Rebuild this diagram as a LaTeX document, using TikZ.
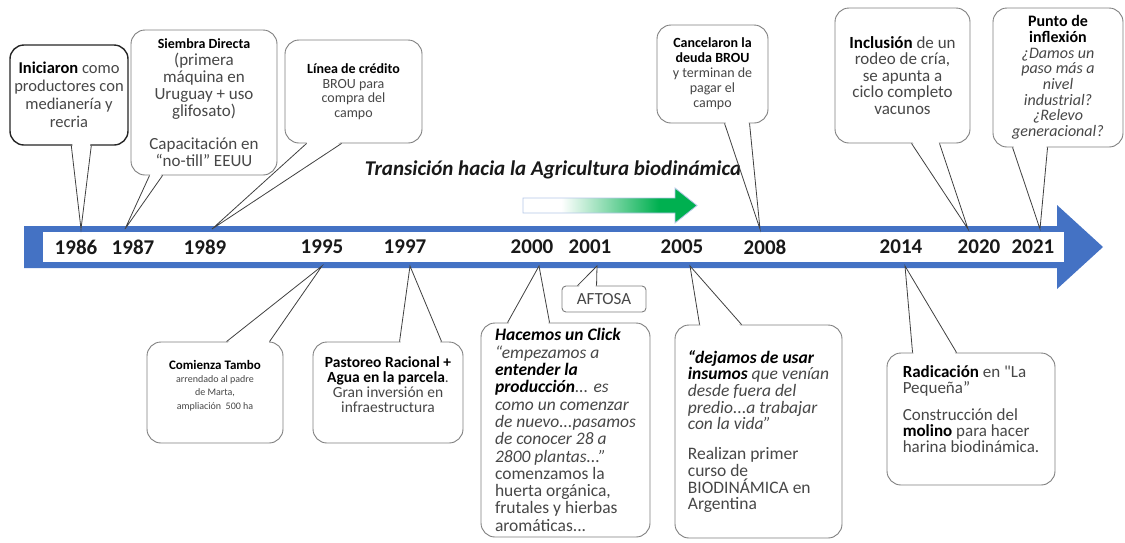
\documentclass[tikz,border=0pt]{standalone}
\usepackage{fontspec}
\setmainfont{Carlito}
\usetikzlibrary{calc}

\definecolor{bandblue}{HTML}{4472C4}
\definecolor{arrowgreen}{HTML}{00B050}
\definecolor{arrowedge}{HTML}{B4C7E7}
\definecolor{boxgray}{HTML}{7F7F7F}
\pgfdeclarehorizontalshading{greenfade}{100bp}{color(0bp)=(white); color(36bp)=(white); color(64bp)=(arrowgreen); color(100bp)=(arrowgreen)}

\newcommand\negrita[1]{\textbf{\color{black}#1}}
\newcommand\cuerpo{\fontsize{17}{17}\selectfont}
\newcommand\chico{\fontsize{14}{14.5}\selectfont}
% callout tails: node, left and right offset on its edge, tip
\newcommand\colaarriba[4]{%
  \fill[white] ([xshift=#2pt+1pt,yshift=1.5pt]#1.south west) -- (#4) -- ([xshift=#3pt-1pt,yshift=1.5pt]#1.south west) -- cycle;
  \draw[cola] ([xshift=#2pt]#1.south west) -- (#4) -- ([xshift=#3pt]#1.south west);}
\newcommand\colaabajo[4]{%
  \fill[white] ([xshift=#2pt+1pt,yshift=-1.5pt]#1.north west) -- (#4) -- ([xshift=#3pt-1pt,yshift=-1.5pt]#1.north west) -- cycle;
  \draw[cola] ([xshift=#2pt]#1.north west) -- (#4) -- ([xshift=#3pt]#1.north west);}

\begin{document}
\begin{tikzpicture}[x=1pt, y=-1pt,
    callout/.style={draw=boxgray, line width=0.9pt, fill=white, rounded corners=14pt, align=center, inner sep=1pt, text=black!72, font=\cuerpo},
    calloutleft/.style={callout, align=left},
    year/.style={font=\fontsize{21}{21}\selectfont\bfseries, text=black!90, inner sep=0pt},
    cola/.style={draw=black!75, line width=0.8pt, line join=miter}]

    \useasboundingbox (0,0) rectangle (1125,542);

    % Define the time band (blue arrow)
    \fill[bandblue] (24,226) -- (1057,226) -- (1057,205) -- (1103,247) -- (1057,289) -- (1057,268) -- (24,268) -- cycle;
    \fill[white] (43,232) rectangle (1064,262);

    % Define the years
    \node[year] (y1986) at (76,247) {1986};
    \node[year] (y1987) at (133,247) {1987};
    \node[year] (y1989) at (205,247) {1989};
    \node[year] (y1995) at (322,247) {1995};
    \node[year] (y1997) at (405,247) {1997};
    \node[year] (y2000) at (532,247) {2000};
    \node[year] (y2001) at (590,247) {2001};
    \node[year] (y2005) at (682,247) {2005};
    \node[year] (y2008) at (765,247) {2008};
    \node[year] (y2014) at (901,247) {2014};
    \node[year] (y2020) at (979,247) {2020};
    \node[year] (y2021) at (1033,247) {2021};

    % Tips of the callouts on the band
    \coordinate (t1986) at (81,229);
    \coordinate (t1987) at (125,229);
    \coordinate (t1989) at (212,229);
    \coordinate (t2008) at (760,229);
    \coordinate (t2020) at (968,229);
    \coordinate (t2021) at (1040,229);
    \coordinate (t1995) at (322,266);
    \coordinate (t1997) at (410,266);
    \coordinate (t2000) at (539,266);
    \coordinate (t2001) at (597,266);
    \coordinate (t2005) at (690,266);
    \coordinate (t2014) at (905,266);

    % Transition
    \node[font=\fontsize{21}{21}\selectfont\bfseries\itshape, text=black!90] (transtext) at (553,170) {Transición hacia la Agricultura biodinámica};
    \shadedraw[shading=greenfade, draw=arrowedge, line width=0.8pt] (523,198) -- (675,198) -- (675,188) -- (697,205.5) -- (675,223) -- (675,213) -- (523,213) -- cycle;

    % Define the callouts above the band
    \node[callout, draw=black!85, line width=1.4pt, inner xsep=0pt, font=\fontsize{16.5}{18}\selectfont, minimum width=118pt, minimum height=100pt] (c1986) at (69,95) {\negrita{Iniciaron} como\\productores con\\medianería y\\recria};
    \node[callout, minimum width=146pt, minimum height=145pt] (c1987) at (204,102.5) {{\chico\negrita{Siembra Directa}}\\(primera\\máquina en\\Uruguay + uso\\glifosato)\\[16pt]Capacitación en\\“no-till” EEUU};
    \node[callout, font=\chico, minimum width=137pt, minimum height=103pt] (c1989) at (353.5,91.5) {\negrita{Línea de crédito}\\BROU para\\compra del\\campo};
    \node[callout, font=\fontsize{14}{15}\selectfont, minimum width=111pt, minimum height=98pt] (c2008) at (712.5,74) {\negrita{Cancelaron la}\\\negrita{deuda BROU}\\y terminan de\\pagar el\\campo};
    \node[callout, font=\fontsize{17}{16.5}\selectfont, minimum width=135pt, minimum height=135pt] (c2020) at (902.5,75.5) {\negrita{Inclusión} de un\\rodeo de cría,\\se apunta a\\ciclo completo\\vacunos};
    \node[callout, font=\fontsize{16}{15.7}\selectfont, minimum width=130pt, minimum height=139pt] (c2021) at (1058,77.5) {\negrita{Punto de}\\\negrita{inflexión}\\\textit{¿Damos un}\\\textit{paso más a}\\\textit{nivel}\\\textit{industrial?}\\\textit{¿Relevo}\\\textit{generacional?}};

    % Define the callouts below the band
    \node[callout, font=\fontsize{10}{13.3}\selectfont, text depth=16pt, minimum width=136pt, minimum height=101pt] (c1995) at (215,392.5) {{\fontsize{13}{15}\selectfont\negrita{Comienza Tambo}}\\arrendado al padre\\de Marta,\\ampliación~~500 ha};
    \node[callout, font=\fontsize{15.5}{15}\selectfont, text depth=15pt, minimum width=150pt, minimum height=101pt] (c1997) at (388,392.5) {\negrita{Pastoreo Racional +}\\\negrita{Agua en la parcela}.\\Gran inversión en\\infraestructura};
    \node[callout, rounded corners=4pt, font=\fontsize{17}{17}\selectfont, minimum width=84pt, minimum height=26pt] (c2001) at (604,299) {AFTOSA};
    \node[calloutleft, font=\fontsize{17.5}{17.3}\selectfont, minimum width=169pt, minimum height=214pt] (c2000) at (565.5,430) {\negrita{\itshape Hacemos un Click}\\\textit{“empezamos a}\\\negrita{\itshape entender la}\\\negrita{\itshape producción}\textit{... es}\\\textit{como un comenzar}\\\textit{de nuevo...pasamos}\\\textit{de conocer 28 a}\\\textit{2800 plantas...”}\\comenzamos la\\huerta orgánica,\\frutales y hierbas\\aromáticas...};
    \node[calloutleft, font=\fontsize{17.5}{16.7}\selectfont, minimum width=167pt, minimum height=213pt] (c2005) at (758.5,431.5) {\negrita{\itshape “dejamos de usar}\\\negrita{\itshape insumos}\textit{ que venían}\\\textit{desde fuera del}\\\textit{predio...a trabajar}\\\textit{con la vida”}\\[13pt]Realizan primer\\curso de\\BIODINÁMICA en\\Argentina};
    \node[calloutleft, font=\fontsize{17}{16}\selectfont, text depth=20pt, minimum width=168pt, minimum height=132pt] (c2014) at (971,419) {\negrita{Radicación} en \textquotedbl La\\Pequeña”\\[11pt]Construcción del\\\negrita{molino} para hacer\\harina biodinámica.};

    % Define the tails
    \colaarriba{c1986}{62}{82}{t1986}
    \colaarriba{c1987}{19}{32}{t1987}
    \colaarriba{c1989}{22}{57}{t1989}
    \colaarriba{c2008}{68}{93}{t2008}
    \colaarriba{c2020}{77}{105}{t2020}
    \colaarriba{c2021}{20}{55}{t2021}
    \colaabajo{c1995}{80}{123}{t1995}
    \colaabajo{c1997}{87}{129}{t1997}
    \colaabajo{c2000}{27}{69}{t2000}
    \colaabajo{c2001}{16}{35}{t2001}
    \colaabajo{c2005}{25}{67}{t2005}
    \colaabajo{c2014}{26}{70}{t2014}

\end{tikzpicture}
\end{document}
